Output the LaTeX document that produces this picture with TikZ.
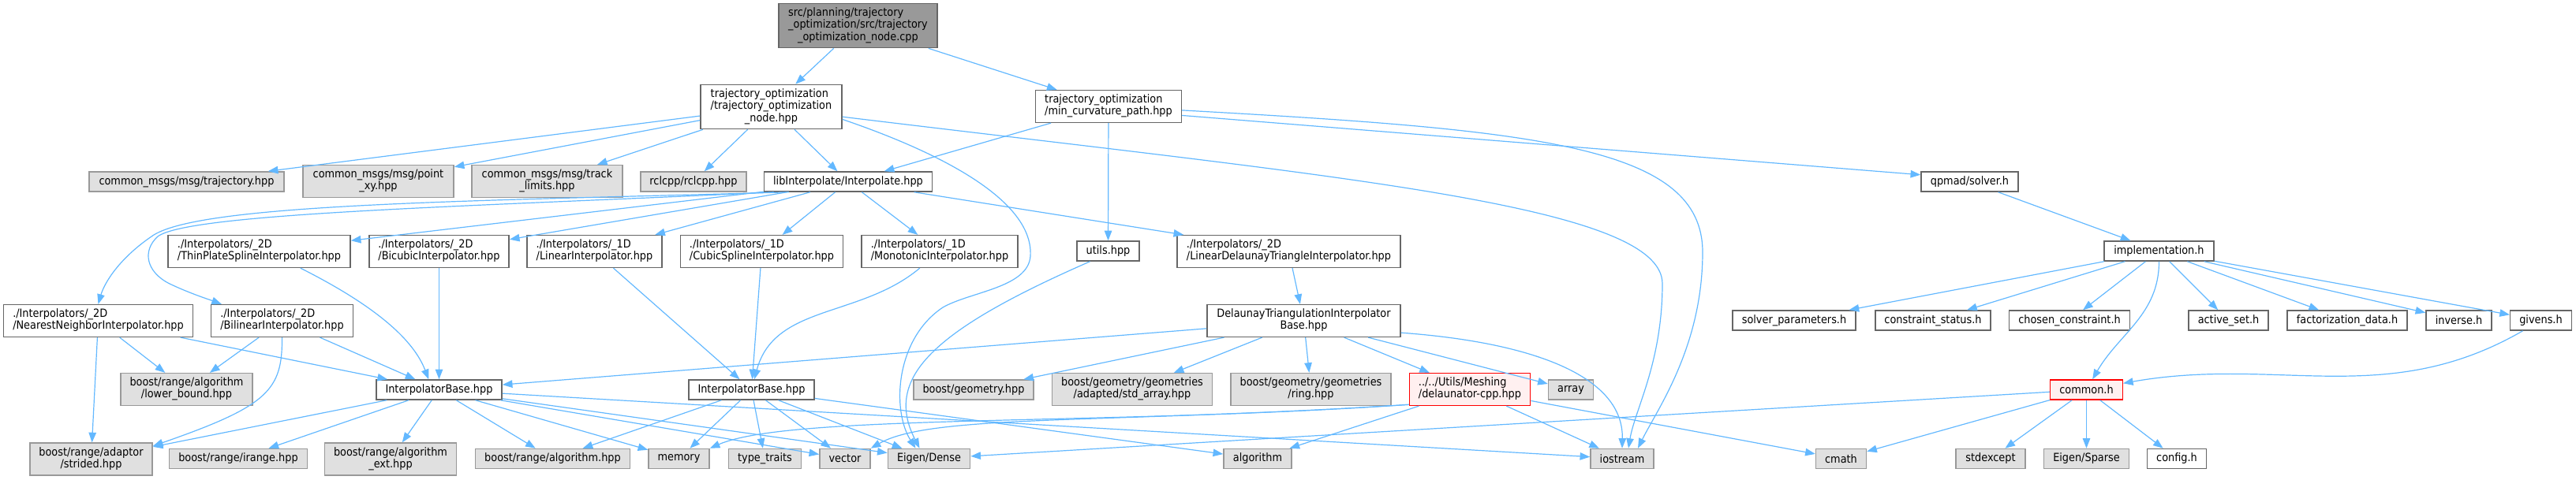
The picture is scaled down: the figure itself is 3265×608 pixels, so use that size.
\documentclass[tikz,border=0pt]{standalone}
\usepackage{fontspec}
\setmainfont{DejaVu Sans Condensed}
\usepackage{tikz}
\usetikzlibrary{arrows.meta,calc}
\definecolor{edgeblue}{HTML}{63B8FF}
\definecolor{sysfill}{HTML}{E0E0E0}
\definecolor{sysline}{HTML}{999999}
\definecolor{fileline}{HTML}{666666}
\definecolor{rootfill}{HTML}{999999}
\definecolor{warnline}{HTML}{FF0000}
\definecolor{warnfill}{HTML}{FFF0F0}
\newcommand{\doxlines}[2]{\begin{tabular}{@{}l@{}}#1\\\multicolumn{1}{@{}c@{}}{#2}\end{tabular}}
\tikzset{
  filebox/.style={draw=fileline,fill=white,line width=0.42pt,inner xsep=3.3pt,
                  inner ysep=0.05cm,minimum height=0.25cm,
                  font=\fontsize{4.07}{4.27}\selectfont},
  sysbox/.style={filebox,draw=sysline,fill=sysfill},
  rootbox/.style={filebox,fill=rootfill},
  warnbox/.style={filebox,draw=warnline,fill=warnfill},
  dep/.style={-{Triangle[length=3.6pt,width=2.7pt]},line width=0.34pt,
              draw=edgeblue}
}

\begin{document}
\begin{tikzpicture}[x=0.01cm,y=-0.01cm]
    \path[use as bounding box] (0,0) rectangle (3265,608);
    % top rows
    \node[rootbox,minimum width=2.01cm] (root) at (1087.5,32.5)
      {\doxlines{src/planning/trajectory\\\_optimization/src/trajectory}{\_optimization\_node.cpp}};
    \node[filebox,minimum width=1.79cm] (nodehpp) at (977.5,135.5)
      {\doxlines{trajectory\_optimization\\/trajectory\_optimization}{\_node.hpp}};
    \node[filebox,minimum width=1.84cm] (mincurv) at (1405,135)
      {\doxlines{trajectory\_optimization}{/min\_curvature\_path.hpp}};
    \node[sysbox,minimum width=2.47cm] (msgtraj) at (236.5,230.5) {common\_msgs/msg/trajectory.hpp};
    \node[sysbox,minimum width=1.91cm] (msgpoint) at (479.5,230)
      {\doxlines{common\_msgs/msg/point}{\_xy.hpp}};
    \node[sysbox,minimum width=1.91cm] (msgtrack) at (693.5,230)
      {\doxlines{common\_msgs/msg/track}{\_limits.hpp}};
    \node[sysbox,minimum width=1.32cm] (rclcpp) at (879,230.5) {rclcpp/rclcpp.hpp};
    \node[filebox,minimum width=2.12cm] (interp) at (1075,230.5) {libInterpolate/Interpolate.hpp};
    \node[filebox,minimum width=1.23cm] (qpmad) at (2496.5,230.5) {qpmad/solver.h};
    % interpolator headers
    \node[filebox,minimum width=2.31cm] (thinplate) at (328.5,319)
      {\doxlines{./Interpolators/\_2D}{/ThinPlateSplineInterpolator.hpp}};
    \node[filebox,minimum width=1.75cm] (bicubic) at (556.5,319)
      {\doxlines{./Interpolators/\_2D}{/BicubicInterpolator.hpp}};
    \node[filebox,minimum width=1.69cm] (linear1d) at (753.5,319)
      {\doxlines{./Interpolators/\_1D}{/LinearInterpolator.hpp}};
    \node[filebox,minimum width=2.05cm] (cubic) at (965.5,319)
      {\doxlines{./Interpolators/\_1D}{/CubicSplineInterpolator.hpp}};
    \node[filebox,minimum width=1.98cm] (monotonic) at (1191,319)
      {\doxlines{./Interpolators/\_1D}{/MonotonicInterpolator.hpp}};
    \node[filebox,minimum width=0.79cm] (utils) at (1404.5,318.5) {utils.hpp};
    \node[filebox,minimum width=2.83cm] (lindelaunay) at (1633.5,319)
      {\doxlines{./Interpolators/\_2D}{/LinearDelaunayTriangleInterpolator.hpp}};
    \node[filebox,minimum width=1.39cm] (impl) at (2736.5,318.5) {implementation.h};
    \node[filebox,minimum width=2.39cm] (nearest) at (124.5,407)
      {\doxlines{./Interpolators/\_2D}{/NearestNeighborInterpolator.hpp}};
    \node[filebox,minimum width=1.79cm] (bilinear) at (357.5,407)
      {\doxlines{./Interpolators/\_2D}{/BilinearInterpolator.hpp}};
    \node[filebox,minimum width=2.45cm] (delaunaybase) at (1652.5,407)
      {\doxlines{DelaunayTriangulationInterpolator}{Base.hpp}};
    % qpmad internals
    \node[filebox,minimum width=1.56cm] (solverparam) at (2274,406.5) {solver\_parameters.h};
    \node[filebox,minimum width=1.46cm] (cstatus) at (2450,406.5) {constraint\_status.h};
    \node[filebox,minimum width=1.52cm] (chosen) at (2623,406.5) {chosen\_constraint.h};
    \node[filebox,minimum width=1.01cm] (activeset) at (2824.5,406.5) {active\_set.h};
    \node[filebox,minimum width=1.52cm] (factdata) at (2975,406.5) {factorization\_data.h};
    \node[filebox,minimum width=0.83cm] (inverse) at (3116.5,406.5) {inverse.h};
    \node[filebox,minimum width=0.77cm] (givens) at (3220.5,406.5) {givens.h};
    % base row
    \node[sysbox,minimum width=1.67cm] (lowerbound) at (236.5,494)
      {\doxlines{boost/range/algorithm}{/lower\_bound.hpp}};
    \node[filebox,minimum width=1.59cm] (ibase2d) at (556.5,494.5) {InterpolatorBase.hpp};
    \node[filebox,minimum width=1.59cm] (ibase1d) at (952.5,494.5) {InterpolatorBase.hpp};
    \node[sysbox,minimum width=1.50cm] (geometry) at (1234,494.5) {boost/geometry.hpp};
    \node[sysbox,minimum width=2.02cm] (stdarray) at (1435,494)
      {\doxlines{boost/geometry/geometries}{/adapted/std\_array.hpp}};
    \node[sysbox,minimum width=2.03cm] (ring) at (1661.5,494)
      {\doxlines{boost/geometry/geometries}{/ring.hpp}};
    \node[warnbox,minimum width=1.52cm] (delaunator) at (1863,494)
      {\doxlines{../../Utils/Meshing}{/delaunator-cpp.hpp}};
    \node[sysbox,minimum width=0.56cm] (array) at (1991,494.5) {array};
    \node[warnbox,minimum width=0.91cm] (common) at (2644.5,494.5) {common.h};
    % bottom row
    \node[sysbox,minimum width=1.53cm] (strided) at (115.5,582.5)
      {\doxlines{boost/range/adaptor}{/strided.hpp}};
    \node[sysbox,minimum width=1.72cm] (irange) at (302,582) {boost/range/irange.hpp};
    \node[sysbox,minimum width=1.66cm] (algext) at (495,582.5)
      {\doxlines{boost/range/algorithm}{\_ext.hpp}};
    \node[sysbox,minimum width=1.95cm] (alghpp) at (700.5,582) {boost/range/algorithm.hpp};
    \node[sysbox,minimum width=0.77cm] (memory) at (860.5,582) {memory};
    \node[sysbox,minimum width=0.91cm] (typetraits) at (969.5,582) {type\_traits};
    \node[sysbox,minimum width=0.62cm] (vector) at (1071,582) {vector};
    \node[sysbox,minimum width=1.03cm] (eigendense) at (1177.5,582) {Eigen/Dense};
    \node[sysbox,minimum width=0.86cm] (algorithm) at (1594,582) {algorithm};
    \node[sysbox,minimum width=0.80cm] (iostream) at (2056,582) {iostream};
    \node[sysbox,minimum width=0.63cm] (cmath) at (2333.5,582) {cmath};
    \node[sysbox,minimum width=0.88cm] (stdexcept) at (2523,582) {stdexcept};
    \node[sysbox,minimum width=1.07cm] (eigensparse) at (2644.5,582) {Eigen/Sparse};
    \node[filebox,minimum width=0.74cm] (config) at (2759,582) {config.h};
    % includes
    \draw[dep] (root) -- (nodehpp);
    \draw[dep] (root) -- (mincurv);
    \draw[dep] (nodehpp) -- (msgtraj);
    \draw[dep] (nodehpp) -- (msgpoint);
    \draw[dep] (nodehpp) -- (msgtrack);
    \draw[dep] (nodehpp) -- (rclcpp);
    \draw[dep] (nodehpp) -- (interp);
    \draw[dep] (nodehpp.-10) .. controls (1210,200) and (1310,260) .. (1306,325)
      .. controls (1303,365) and (1230,370) .. (1195,390)
      .. controls (1135,430) and (1130,520) .. ($(eigendense.north)+(-17,0)$);
    \draw[dep] (nodehpp.-8) .. controls (1700,225) and (2107,260) .. (2107,360)
      .. controls (2107,460) and (2072,520) .. ($(iostream.north)+(8,0)$);
    \draw[dep] (mincurv) -- (interp);
    \draw[dep] (mincurv) -- (utils);
    \draw[dep] (mincurv.-7) -- (qpmad.172);
    \draw[dep] (mincurv.-3) .. controls (1950,165) and (2158,185) .. (2158,320)
      .. controls (2158,440) and (2100,520) .. ($(iostream.north)+(20,0)$);
    \draw[dep] (interp.-170) .. controls (600,255) and (260,258) .. (195,298)
      .. controls (150,328) and (132,360) .. (nearest.north);
    \draw[dep] (interp.-172) .. controls (600,262) and (240,270) .. (200,300)
      .. controls (180,318) and (185,345) .. (215,360)
      .. controls (240,372) and (265,380) .. ($(bilinear.north west)+(14,0)$);
    \draw[dep] (interp) -- (thinplate);
    \draw[dep] (interp) -- (bicubic);
    \draw[dep] (interp) -- (linear1d);
    \draw[dep] (interp) -- (cubic);
    \draw[dep] (interp) -- (monotonic);
    \draw[dep] (interp) -- (lindelaunay);
    \draw[dep] (utils.-150) .. controls (1180,420) and (1120,480) .. ($(eigendense.north)+(-12,0)$);
    \draw[dep] (thinplate.-22) .. controls (450,375) and (520,420) .. (ibase2d.135);
    \draw[dep] (bicubic) -- (ibase2d);
    \draw[dep] (nearest) -- (strided);
    \draw[dep] (nearest) -- (lowerbound);
    \draw[dep] (nearest) -- (ibase2d);
    \draw[dep] (bilinear) -- (lowerbound);
    \draw[dep] (bilinear.south) .. controls (358,495) and (340,515) .. (strided.12);
    \draw[dep] (bilinear) -- (ibase2d);
    \draw[dep] (linear1d) -- (ibase1d);
    \draw[dep] (cubic) -- (ibase1d);
    \draw[dep] (monotonic) to[out=-140,in=75] (ibase1d);
    \draw[dep] (lindelaunay) -- (delaunaybase);
    \draw[dep] (delaunaybase) -- (ibase2d);
    \draw[dep] (delaunaybase) -- (geometry);
    \draw[dep] (delaunaybase) -- (stdarray);
    \draw[dep] (delaunaybase) -- (ring);
    \draw[dep] (delaunaybase) -- (delaunator);
    \draw[dep] (delaunaybase) -- (array);
    \draw[dep] (delaunaybase.-7) .. controls (1950,435) and (2058,480) .. (iostream.north);
    \draw[dep] (ibase2d) -- (strided);
    \draw[dep] (ibase2d) -- (irange);
    \draw[dep] (ibase2d) -- (algext);
    \draw[dep] (ibase2d) -- (alghpp);
    \draw[dep] (ibase2d) -- (memory);
    \draw[dep] (ibase2d) -- (vector);
    \draw[dep] (ibase2d) -- (eigendense);
    \draw[dep] (ibase2d) -- (iostream);
    \draw[dep] (ibase1d) -- (alghpp);
    \draw[dep] (ibase1d) -- (memory);
    \draw[dep] (ibase1d) -- (typetraits);
    \draw[dep] (ibase1d) -- (vector);
    \draw[dep] (ibase1d) -- (eigendense);
    \draw[dep] (ibase1d) -- (algorithm);
    \draw[dep] (delaunator.-166) .. controls (1400,540) and (1000,525) .. (memory.north east);
    \draw[dep] (delaunator.-166) .. controls (1400,538) and (1180,525) .. (vector.north east);
    \draw[dep] (delaunator) -- (algorithm);
    \draw[dep] (delaunator) -- (iostream);
    \draw[dep] (delaunator) -- (cmath);
    \draw[dep] (qpmad) -- (impl);
    \draw[dep] (impl) -- (solverparam);
    \draw[dep] (impl) -- (cstatus);
    \draw[dep] (impl) -- (chosen);
    \draw[dep] (impl.south) to[out=-90,in=60] (common);
    \draw[dep] (impl) -- (activeset);
    \draw[dep] (impl) -- (factdata);
    \draw[dep] (impl) -- (inverse);
    \draw[dep] (impl) -- (givens);
    \draw[dep] (givens) to[out=-150,in=10] (common);
    \draw[dep] (common) -- (eigendense);
    \draw[dep] (common) -- (cmath);
    \draw[dep] (common) -- (stdexcept);
    \draw[dep] (common) -- (eigensparse);
    \draw[dep] (common) -- (config);
  \end{tikzpicture}
\end{document}
